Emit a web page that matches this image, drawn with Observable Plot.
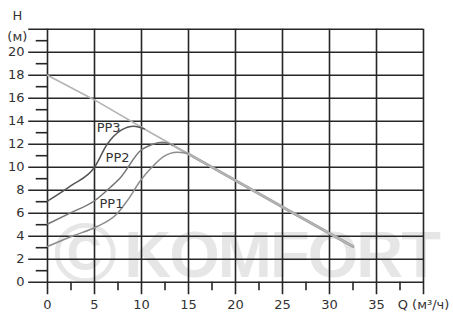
<!DOCTYPE html>
<html>
<head>
<meta charset="utf-8">
<script src="https://cdn.jsdelivr.net/npm/d3@7"></script>
<script src="https://cdn.jsdelivr.net/npm/@observablehq/plot@0.6"></script>
<style>
  html, body { margin: 0; padding: 0; background: #fff; }
  #chart svg { display: block; }
  .wm text { letter-spacing: -2px; }
</style>
</head>
<body>
<div id="chart"></div>
<script>
// ---- data ----
const yTicks = [0, 2, 4, 6, 8, 10, 12, 14, 16, 18, 20];
const yMinor = [1, 3, 5, 7, 9, 11, 13, 15, 17, 19, 21];
const xTicks = [0, 5, 10, 15, 20, 25, 30, 35, 40];
const xTickLabels = ["0", "5", "10", "15", "20", "25", "30", "35", "Q (м³/ч)"];
const xMinor = [2.5, 7.5, 12.5, 17.5, 22.5, 27.5, 32.5, 37.5];
const yUnit = "(м)";
const yTitle = "H";

// max (envelope) line
const maxQ = [0, 5, 11, 26.6, 32.5];
const maxH = [18, 15.85, 13.0, 5.8, 3.1];

// rising parts of each speed curve, up to where they join the envelope
const pp3Q = [0, 2.5, 5, 6.35, 7.8, 9.2, 10.3];
const pp3H = [7.05, 8.4, 10.0, 12.0, 13.2, 13.57, 13.33];

const pp2Q = [0, 2.45, 4.93, 6.7, 7.8, 9.9, 11.2, 12.2, 13.3];
const pp2H = [5.05, 6.03, 7.04, 8.26, 9.13, 11.45, 12.0, 12.17, 11.92];

const pp1Q = [0, 2.8, 5.1, 7.4, 8.5, 9.9, 11, 12.3, 13.8, 14.9];
const pp1H = [3.1, 4.06, 4.78, 5.95, 7.1, 8.84, 9.9, 10.9, 11.3, 11.2];

const seriesNames = ["PP3", "PP2", "PP1"];
const labelQ = [6.5, 7.45, 6.8];
const labelH = [13.45, 10.85, 6.85];

const watermark = "KOMFORT";
const copyright = "©";

// ---- build tables ----
const zip = (qs, hs) => qs.map((q, i) => ({q, h: hs[i]}));
const maxLine = zip(maxQ, maxH);
const pp3 = zip(pp3Q, pp3H);
const pp2 = zip(pp2Q, pp2H);
const pp1 = zip(pp1Q, pp1H);
// after joining, each curve runs along the envelope
const tail = (part) => {
  const last = part[part.length - 1];
  return [last, ...maxLine.filter(d => d.q > last.q)];
};
const labels = seriesNames.map((name, i) => ({name, q: labelQ[i], h: labelH[i]}));
const xLab = xTicks.map((v, i) => ({v, t: xTickLabels[i]}));

const gridColor = "#262626";
const textColor = "#333";
const wmColor = "#e6e6e6";

const chart = Plot.plot({
  width: 453,
  height: 312,
  marginLeft: 47,
  marginRight: 30,
  marginTop: 28.7,
  marginBottom: 30.3,
  x: {domain: [0, 40], axis: null},
  y: {domain: [0, 22], axis: null},
  style: {fontFamily: "'DejaVu Sans', Verdana, sans-serif", fontSize: "13px", background: "#fff"},
  marks: [
    // watermark
    Plot.text([copyright], {x: 4.0, y: 2.4, text: d => d, fontSize: 86, fill: wmColor, fontWeight: "bold", fontFamily: "'Liberation Sans', Arial, sans-serif"}),
    Plot.text([watermark], {x: 24.9, y: 2.3, text: d => d, fontSize: 65, fontWeight: "bold", fill: wmColor, fontFamily: "'Liberation Sans', Arial, sans-serif", className: "wm"}),
    // horizontal grid + major ticks
    Plot.ruleY(yTicks.concat([22]), {x1: -2, x2: 40, stroke: gridColor, strokeWidth: 1.6}),
    Plot.ruleY(yMinor, {x1: -1.2, x2: 0, stroke: gridColor, strokeWidth: 1.6}),
    // vertical grid + ticks
    Plot.ruleX(xTicks, {y1: -1.1, y2: 22, stroke: gridColor, strokeWidth: 1.6}),
    Plot.ruleX(xMinor, {y1: -0.75, y2: 0, stroke: gridColor, strokeWidth: 1.6}),
    // envelope and the shared tails
    Plot.line(tail(pp1), {x: "q", y: "h", stroke: "#9a9a9a", strokeWidth: 2.8}),
    Plot.line(tail(pp2), {x: "q", y: "h", stroke: "#a4a4a4", strokeWidth: 2.2}),
    Plot.line(maxLine, {x: "q", y: "h", stroke: "#b4b4b4", strokeWidth: 1.6}),
    // rising parts
    Plot.line(pp1, {x: "q", y: "h", stroke: "#8c8c8c", strokeWidth: 1.5, curve: "monotone-x"}),
    Plot.line(pp2, {x: "q", y: "h", stroke: "#767676", strokeWidth: 1.5, curve: "monotone-x"}),
    Plot.line(pp3, {x: "q", y: "h", stroke: "#555", strokeWidth: 1.5, curve: "monotone-x"}),
    // curve labels
    Plot.text(labels, {x: "q", y: "h", text: "name", fill: textColor, fontSize: 13}),
    // axis labels
    Plot.text(yTicks, {x: -2.45, y: d => d, text: d => String(d), textAnchor: "end", fill: textColor, fontSize: 13}),
    Plot.text([yUnit], {x: -2.15, y: 21.3, text: d => d, textAnchor: "end", fill: textColor, fontSize: 13}),
    Plot.text([yTitle], {x: -3.2, y: 23.2, text: d => d, fill: textColor, fontSize: 13}),
    Plot.text(xLab, {x: "v", y: -1.94, text: "t", fill: textColor, fontSize: 13})
  ]
});
document.getElementById("chart").appendChild(chart);
</script>
</body>
</html>
